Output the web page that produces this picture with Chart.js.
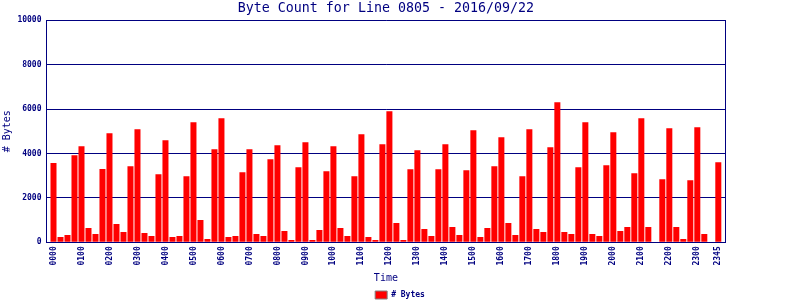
<!DOCTYPE html>
<html>
<head>
<meta charset="utf-8">
<title>Byte Count for Line 0805</title>
<script src="https://cdn.jsdelivr.net/npm/chart.js@4.4.0/dist/chart.umd.min.js"></script>
<style>
  html, body { margin: 0; padding: 0; background: #fff; }
</style>
</head>
<body>
<canvas id="bytesChart" width="800" height="300"></canvas>
<script>
// 15 minute slots
const times = [
  '0000', '0015', '0030', '0045', '0100', '0115', '0130', '0145',
  '0200', '0215', '0230', '0245', '0300', '0315', '0330', '0345',
  '0400', '0415', '0430', '0445', '0500', '0515', '0530', '0545',
  '0600', '0615', '0630', '0645', '0700', '0715', '0730', '0745',
  '0800', '0815', '0830', '0845', '0900', '0915', '0930', '0945',
  '1000', '1015', '1030', '1045', '1100', '1115', '1130', '1145',
  '1200', '1215', '1230', '1245', '1300', '1315', '1330', '1345',
  '1400', '1415', '1430', '1445', '1500', '1515', '1530', '1545',
  '1600', '1615', '1630', '1645', '1700', '1715', '1730', '1745',
  '1800', '1815', '1830', '1845', '1900', '1915', '1930', '1945',
  '2000', '2015', '2030', '2045', '2100', '2115', '2130', '2145',
  '2200', '2215', '2230', '2245', '2300', '2315', '2330', '2345'
];

const bytes = [
  3570, 240, 330, 3925,   4330, 645, 375, 3300,
  4915, 825, 465, 3430,   5095, 420, 285, 3070,
  4600, 240, 285, 2980,   5410, 1005, 150, 4195,
  5590, 240, 285, 3160,   4195, 375, 285, 3745,
  4375, 510, 105, 3385,   4510, 105, 555, 3205,
  4330, 645, 285, 2980,   4870, 240, 105, 4420,
  5905, 870, 105, 3295,   4150, 600, 285, 3295,
  4420, 690, 330, 3250,   5050, 240, 645, 3430,
  4735, 870, 330, 2980,   5095, 600, 465, 4285,
  6305, 465, 375, 3385,   5410, 375, 285, 3475,
  4960, 510, 690, 3115,   5590, 690, 0, 2845,
  5140, 690, 150, 2800,   5185, 375, 0, 3610
];

// labels shown under the x axis
const tickLabels = [
  '0000', '0100', '0200', '0300', '0400', '0500', '0600', '0700',
  '0800', '0900', '1000', '1100', '1200', '1300', '1400', '1500',
  '1600', '1700', '1800', '1900', '2000', '2100', '2200', '2300', '2345'
];

const navy = '#000080';
Chart.defaults.font.family = "'DejaVu Sans Mono', monospace";
Chart.defaults.color = navy;

const ctxBytes = document.getElementById('bytesChart').getContext('2d');
const bytesChart = new Chart(ctxBytes, {
  type: 'bar',
  data: {
    datasets: [{
      label: '# Bytes',
      data: bytes.map((v, i) => ({ x: i, y: v })),
      backgroundColor: '#ff0000',
      borderWidth: 0,
      barPercentage: 1,
      categoryPercentage: 0.86
    }]
  },
  options: {
    responsive: false,
    animation: false,
    layout: { padding: { bottom: -9 } },
    scales: {
      x: {
        type: 'linear',
        offset: false,
        min: -1,
        max: 96,
        afterBuildTicks: s => { s.ticks = tickLabels.map(t => ({ value: times.indexOf(t) })); },
        ticks: {
          autoSkip: false,
          minRotation: 90,
          maxRotation: 90,
          padding: 4,
          font: { size: 8, weight: 'bold' },
          callback: v => times[v]
        },
        grid: { display: false, drawTicks: false },
        border: { color: navy, width: 1 },
        title: { display: true, text: 'Time', font: { size: 10 }, padding: { top: 0, bottom: 3 } },
        afterFit: s => { s.height = 44.7; }
      },
      y: {
        min: 0,
        max: 10000,
        ticks: {
          stepSize: 2000,
          padding: 5,
          font: { size: 8, weight: 'bold' },
          callback: v => String(v)
        },
        grid: { color: navy, lineWidth: 1, drawTicks: false },
        border: { color: navy, width: 1 },
        title: { display: true, text: '# Bytes', font: { size: 10 }, padding: { top: 1.5, bottom: 0 } },
        afterFit: s => { s.width = 46.5; }
      },
      yR: {
        position: 'right',
        ticks: { display: false },
        grid: { display: false, drawTicks: false },
        border: { color: navy, width: 1 },
        afterFit: s => { s.width = 74.7; }
      }
    },
    plugins: {
      title: {
        display: true,
        text: 'Byte Count for Line 0805 - 2016/09/22',
        fullSize: false,
        color: navy,
        font: { size: 13.3, weight: 'normal' },
        padding: { top: 1, bottom: 3.3 }
      },
      legend: {
        position: 'bottom',
        labels: {
          boxWidth: 12,
          boxHeight: 8,
          padding: 4,
          color: navy,
          font: { size: 8, weight: 'bold' },
          generateLabels: chart => Chart.defaults.plugins.legend.labels.generateLabels(chart)
            .map(l => Object.assign(l, { lineWidth: 1, strokeStyle: '#808080' }))
        }
      },
      tooltip: { enabled: false }
    }
  }
});
</script>
</body>
</html>
